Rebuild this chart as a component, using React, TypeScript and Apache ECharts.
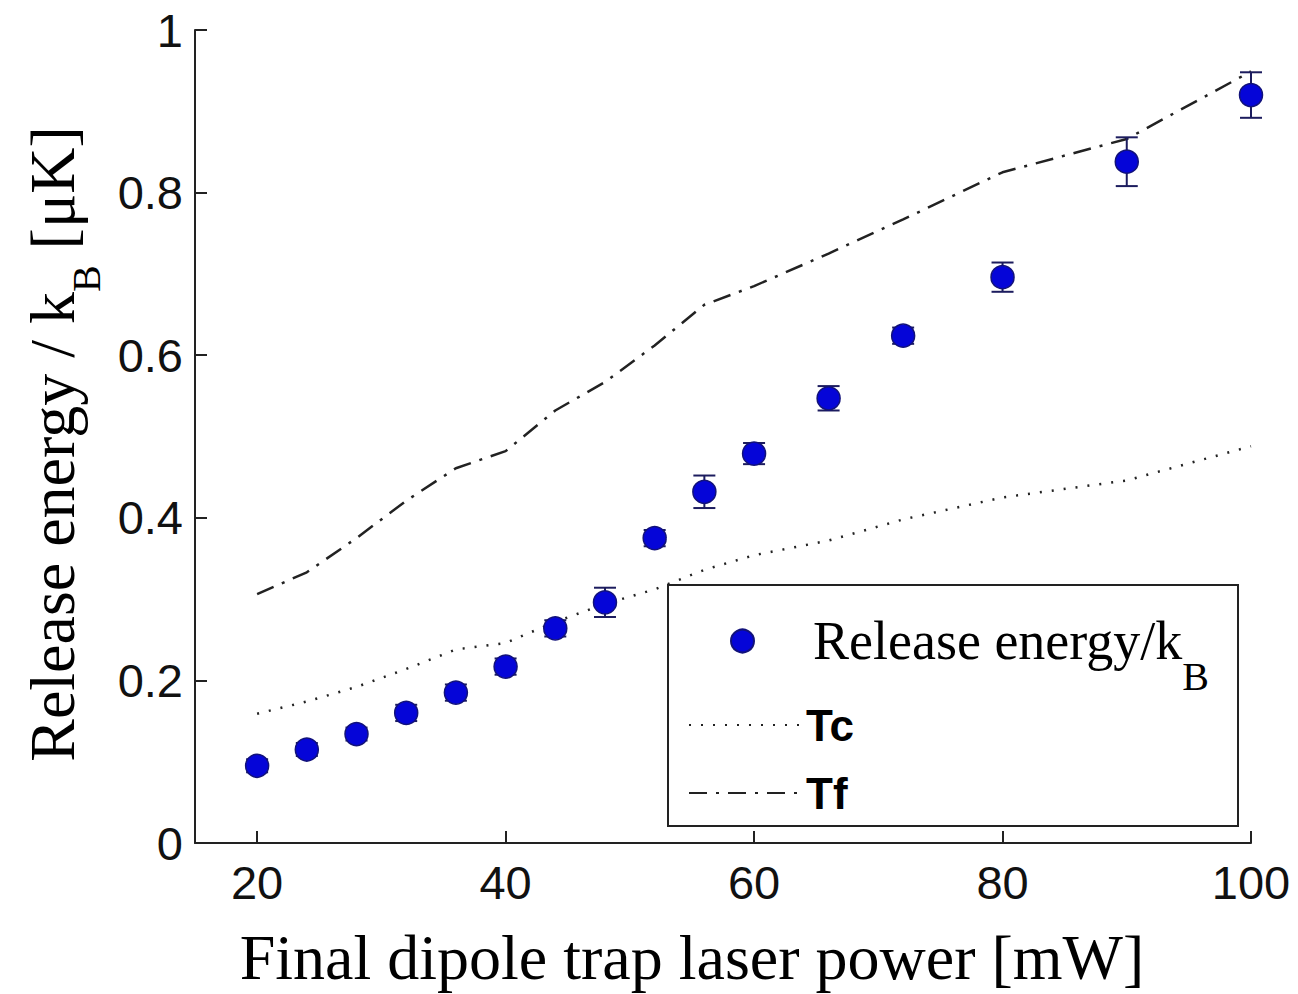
import React, { useEffect, useRef } from 'react';
import * as echarts from 'echarts';

// ---- data ----
const powers = [20, 24, 28, 32, 36, 40, 44, 48, 52, 56, 60, 66, 72, 80, 90, 100];
const releaseEnergy = [0.095, 0.115, 0.134, 0.160, 0.185, 0.217, 0.264, 0.296, 0.375, 0.432, 0.479, 0.547, 0.624, 0.696, 0.838, 0.920];
const releaseError = [0.008, 0.008, 0.008, 0.010, 0.010, 0.010, 0.010, 0.018, 0.010, 0.020, 0.013, 0.015, 0.010, 0.018, 0.030, 0.028];
const tcValues = [0.159, 0.174, 0.192, 0.214, 0.238, 0.246, 0.272, 0.294, 0.312, 0.336, 0.354, 0.372, 0.398, 0.425, 0.446, 0.488];
const tfValues = [0.306, 0.333, 0.375, 0.421, 0.461, 0.482, 0.532, 0.567, 0.612, 0.662, 0.685, 0.725, 0.767, 0.825, 0.866, 0.949];
const xTicks = [20, 40, 60, 80, 100];

const SANS = "'Liberation Sans', Arial, Helvetica, sans-serif";
const SERIF = "'Liberation Serif', 'Times New Roman', Times, serif";

export default function App() {
  const ref = useRef<HTMLDivElement>(null);

  useEffect(() => {
    const chart = echarts.init(ref.current!, null, { renderer: 'svg' });

    const scatterData = powers.map((p, i) => [p, releaseEnergy[i]]);
    const errData = powers.map((p, i) => [p, releaseEnergy[i] - releaseError[i], releaseEnergy[i] + releaseError[i]]);
    const tcData = powers.map((p, i) => [p, tcValues[i]]);
    const tfData = powers.map((p, i) => [p, tfValues[i]]);

    const axisColor = '#222';

    const option: any = {
      animation: false,
      backgroundColor: '#ffffff',
      grid: { left: 195, top: 30, right: 47, bottom: 147 },
      xAxis: {
        type: 'value',
        min: 15,
        max: 100,
        splitLine: { show: false },
        axisLine: { show: true, onZero: false, lineStyle: { color: axisColor, width: 2 } },
        axisTick: { show: true, inside: true, length: 12, customValues: xTicks, lineStyle: { color: axisColor, width: 2 } },
        axisLabel: {
          customValues: xTicks,
          margin: 16,
          color: '#111',
          fontFamily: SANS,
          fontSize: 47,
        },
        name: 'Final dipole trap laser power [mW]',
        nameLocation: 'middle',
        nameGap: 82,
        nameTextStyle: {
          fontFamily: SERIF,
          fontSize: 64,
          color: '#000',
          lineHeight: 64,
          padding: [0, 62, 0, 0],
        },
      },
      yAxis: {
        type: 'value',
        min: 0,
        max: 1,
        interval: 0.2,
        splitLine: { show: false },
        axisLine: { show: true, onZero: false, lineStyle: { color: axisColor, width: 2 } },
        axisTick: { show: true, inside: true, length: 12, lineStyle: { color: axisColor, width: 2 } },
        axisLabel: {
          margin: 12,
          color: '#111',
          fontFamily: SANS,
          fontSize: 47,
        },
        name: '{m|Release energy / k}{s|B}{m| [μK]}',
        nameLocation: 'middle',
        nameRotate: 90,
        nameGap: 104,
        nameTextStyle: {
          color: '#000',
          padding: [0, 15, 0, 0],
          rich: {
            m: { fontFamily: SERIF, fontSize: 64, lineHeight: 64, color: '#000', verticalAlign: 'top' },
            s: { fontFamily: SERIF, fontSize: 40, lineHeight: 40, color: '#000', verticalAlign: 'top', padding: [46, 0, 0, 0] },
          },
        },
      },
      legend: [
        {
          data: [{ name: 'Release energy/kB', icon: 'circle' }],
          left: 730,
          top: 586,
          padding: 0,
          itemWidth: 23,
          itemHeight: 23,
          selectedMode: false,
          z: 6,
          formatter: () => '{m|Release energy/k}{s|B}',
          textStyle: {
            rich: {
              m: { fontFamily: SERIF, fontSize: 54, lineHeight: 60, color: '#000', verticalAlign: 'middle', padding: [0, 0, 0, 54] },
              s: { fontFamily: SERIF, fontSize: 40, lineHeight: 40, color: '#000', verticalAlign: 'middle', padding: [70, 0, 0, 0] },
            },
          },
        },
        {
          data: [{ name: 'Tc', itemStyle: { color: 'rgba(0,0,0,0)', borderColor: 'rgba(0,0,0,0)', borderWidth: 0, opacity: 0 } }],
          left: 688,
          top: 700,
          padding: 0,
          itemWidth: 112,
          itemHeight: 14,
          selectedMode: false,
          z: 6,
          textStyle: { fontFamily: SANS, fontSize: 44, fontWeight: 'bold', lineHeight: 50, color: '#000' },
        },
        {
          data: [{ name: 'Tf', itemStyle: { color: 'rgba(0,0,0,0)', borderColor: 'rgba(0,0,0,0)', borderWidth: 0, opacity: 0 } }],
          left: 688,
          top: 768,
          padding: 0,
          itemWidth: 112,
          itemHeight: 14,
          selectedMode: false,
          z: 6,
          textStyle: { fontFamily: SANS, fontSize: 44, fontWeight: 'bold', lineHeight: 50, color: '#000' },
        },
      ],
      graphic: [
        {
          type: 'rect',
          x: 668,
          y: 585,
          z: 3,
          shape: { x: 0, y: 0, width: 570, height: 241 },
          style: { fill: '#ffffff', stroke: '#222', lineWidth: 2 },
        },
      ],
      series: [
        {
          name: 'Tc',
          type: 'line',
          data: tcData,
          symbol: 'none',
          z: 1,
          itemStyle: { color: '#222' },
          lineStyle: { color: '#222', width: 2.5, type: [2, 10] },
        },
        {
          name: 'Tf',
          type: 'line',
          data: tfData,
          symbol: 'none',
          z: 1,
          itemStyle: { color: '#222' },
          lineStyle: { color: '#222', width: 2.5, type: [18, 9, 3, 9] },
        },
        {
          name: 'errorbars',
          type: 'custom',
          data: errData,
          encode: { x: 0, y: [1, 2] },
          z: 2,
          renderItem: (params: any, api: any) => {
            const x = api.value(0);
            const lo = api.value(1);
            const hi = api.value(2);
            const top = api.coord([x, hi]);
            const bot = api.coord([x, lo]);
            const w = 11;
            const style = { stroke: '#1c1c5e', lineWidth: 2 };
            return {
              type: 'group',
              children: [
                { type: 'line', shape: { x1: top[0], y1: top[1], x2: bot[0], y2: bot[1] }, style },
                { type: 'line', shape: { x1: top[0] - w, y1: top[1], x2: top[0] + w, y2: top[1] }, style },
                { type: 'line', shape: { x1: bot[0] - w, y1: bot[1], x2: bot[0] + w, y2: bot[1] }, style },
              ],
            };
          },
        },
        {
          name: 'Release energy/kB',
          type: 'scatter',
          data: scatterData,
          symbol: 'circle',
          symbolSize: 23,
          clip: false,
          z: 3,
          itemStyle: { color: '#0505d8', borderColor: '#12127a', borderWidth: 1.5, opacity: 1 },
        },
      ],
    };

    chart.setOption(option);
    return () => chart.dispose();
  }, []);

  return (
    <div
      ref={ref}
      style={{ position: 'fixed', left: 0, top: 0, width: 1298, height: 994, background: '#fff' }}
    />
  );
}
